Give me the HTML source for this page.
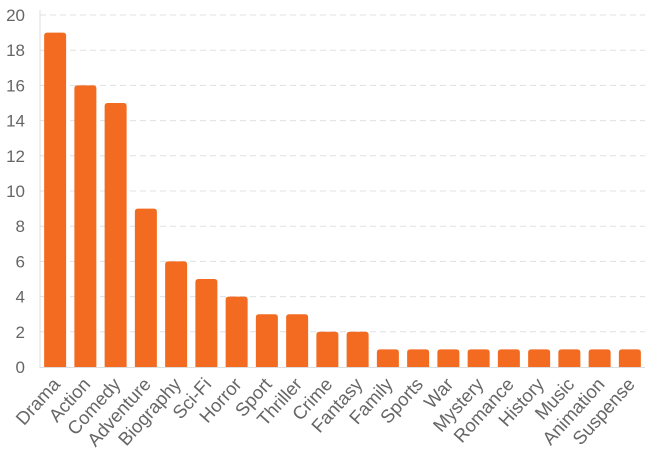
<!DOCTYPE html>
<html><head><meta charset="utf-8"><style>body{margin:0;background:#fff}svg{display:block;font-family:"Liberation Sans",Arial,sans-serif}</style></head>
<body>
<svg id="chart" width="650" height="465" xmlns="http://www.w3.org/2000/svg"></svg>
<script>
const categories=["Drama","Action","Comedy","Adventure","Biography","Sci-Fi","Horror","Sport","Thriller","Crime","Fantasy","Family","Sports","War","Mystery","Romance","History","Music","Animation","Suspense"];
const values=[19,16,15,9,6,5,4,3,3,2,2,1,1,1,1,1,1,1,1,1];
const yTicks=[0,2,4,6,8,10,12,14,16,18,20];
const svg=document.getElementById('chart');const NS='http://www.w3.org/2000/svg';
const x0=40,x1=645,yTop=15,yBot=367,yMax=20;
const band=(x1-x0)/categories.length;
const ys=v=>yBot-(v/yMax)*(yBot-yTop);
const xs=i=>x0+band*i;
function mk(t,a){const e=document.createElementNS(NS,t);for(const k in a)e.setAttribute(k,a[k]);svg.appendChild(e);return e;}
yTicks.forEach(t=>{
 if(t>0){const g=mk('line',{x1:x0,x2:x1,y1:ys(t),y2:ys(t),stroke:'#e0e0e0','stroke-dasharray':'6,4'});
 
 }
 const l=mk('text',{x:25,y:ys(t)+6,'text-anchor':'end','font-size':'17',fill:'#666'});l.textContent=t;
 
 
});
const ax=mk('line',{x1:x0,x2:x0,y1:yTop-5,y2:yBot+1,stroke:'#ddd'});


const bx=mk('line',{x1:x0,x2:x1,y1:yBot+0.5,y2:yBot+0.5,stroke:'#ddd'});


categories.forEach((c,i)=>{
 const bw=22,bx0=xs(i)+(band-bw)/2,top=ys(values[i]);
 const r=mk('path',{d:`M${bx0},${yBot} L${bx0},${top+3} Q${bx0},${top} ${bx0+3},${top} L${bx0+bw-3},${top} Q${bx0+bw},${top} ${bx0+bw},${top+3} L${bx0+bw},${yBot} Z`,fill:'#f26b21'});
 
 
 const cx=xs(i)+band/2+6,cy=385;
 const t=mk('text',{x:cx,y:cy,'text-anchor':'end','font-size':'18.5',fill:'#666',transform:`rotate(-48 ${cx} ${cy})`});t.textContent=c;
 
 
});
</script>
</body></html>
